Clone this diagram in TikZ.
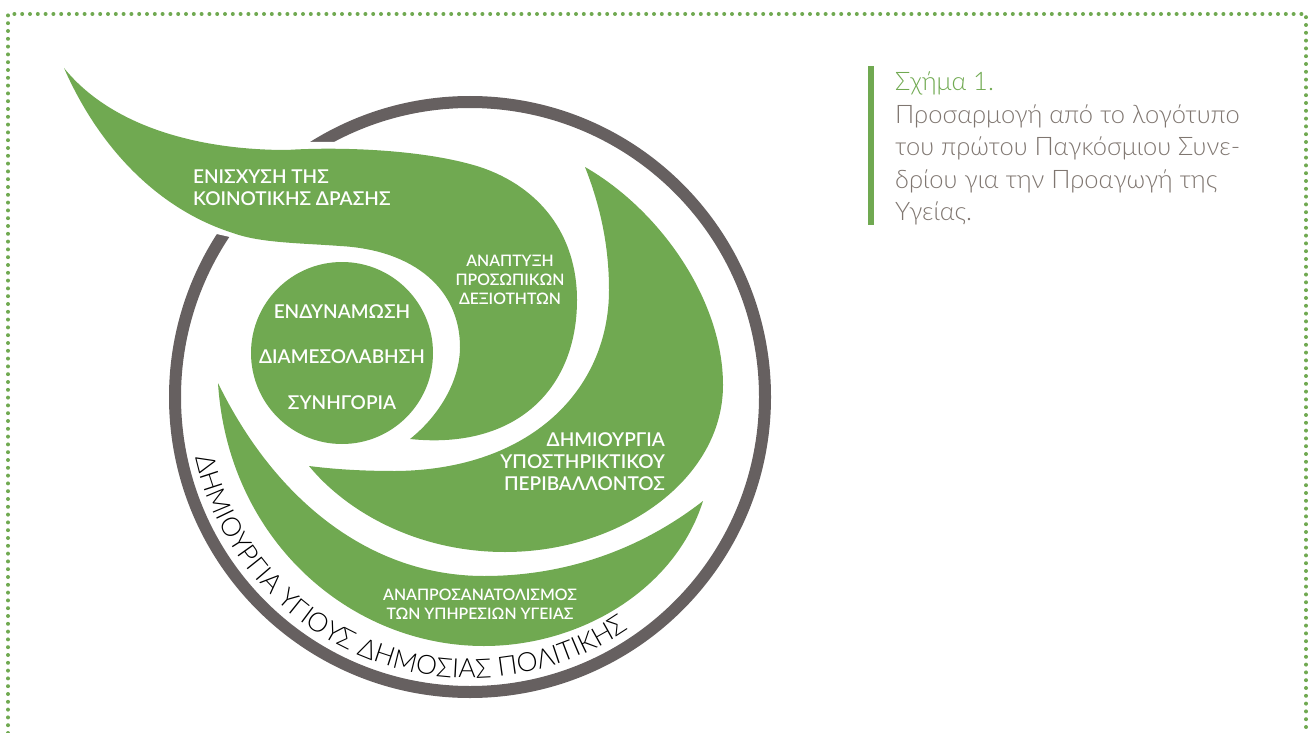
\documentclass[tikz,border=0pt]{standalone}
\usepackage{fontspec}
\usetikzlibrary{decorations.text}
\setmainfont{Lato}
\newfontfamily\boldface{Lato Semibold}
\newfontfamily\lightface{Lato Light}
\definecolor{leafgreen}{HTML}{70A951}
\definecolor{ringgray}{HTML}{666060}
\definecolor{captgray}{HTML}{7F7670}
\tikzset{
  leaf/.style={fill=leafgreen},
  dotline/.style={draw=leafgreen,line width=4pt,line cap=round,dash pattern=on 0pt off 7.8pt},
  whitebig/.style={text=white,inner sep=0pt,align=center,font=\boldface\fontsize{19}{22}\selectfont},
  whitesmall/.style={text=white,inner sep=0pt,align=center,font=\boldface\fontsize{15.8}{19}\selectfont},
  capt/.style={inner sep=0pt,anchor=north west,align=left,text=captgray,font=\lightface\fontsize{25.5}{32.5}\selectfont}
}
\begin{document}
\begin{tikzpicture}[x=1pt,y=-1pt]
\useasboundingbox (0,0) rectangle (1309,733);
\draw[dotline] (8,733)--(8,14)--(1306,14)--(1306,733);
\coordinate (centre) at (470,397);
\draw[ringgray,line width=12pt] (centre) circle[radius=295];
\fill[white] (300,142)--(345,142)--(345,200)--(245,240.5)--(205,231.3)--cycle;
% leaves
\fill[leaf] (64,68) .. controls (110,125) and (195,150) .. (287,150) .. controls (330,147) and (420,148) .. (480,167) .. controls (540,187) and (577,235) .. (577,300) .. controls (577,390) and (515,450) .. (410,439)
  .. controls (440,415) and (460,380) .. (460,347) .. controls (460,290) and (415,250) .. (340,246) .. controls (300,243) and (260,243) .. (233,233) .. controls (160,210) and (100,150) .. (64,68) -- cycle;
\fill[leaf] (585,167) .. controls (660,210) and (723,300) .. (723,385) .. controls (723,480) and (620,552) .. (505,552) .. controls (415,552) and (345,510) .. (309,466)
  .. controls (340,470) and (370,471) .. (395,471) .. controls (530,470) and (609,390) .. (609,290) .. controls (609,245) and (600,205) .. (585,167) -- cycle;
\fill[leaf] (218,383) .. controls (228,540) and (350,646) .. (484,646) .. controls (580,646) and (675,590) .. (703,501)
  .. controls (640,550) and (565,576) .. (484,576) .. controls (370,576) and (275,500) .. (218,383) -- cycle;
\fill[leaf] (342,353) circle[radius=91];
% labels
\node[whitebig,align=left,anchor=west] (action) at (193,188) {ΕΝΙΣΧΥΣΗ ΤΗΣ\\ΚΟΙΝΟΤΙΚΗΣ ΔΡΑΣΗΣ};
\node[whitesmall] (skills) at (510,280) {ΑΝΑΠΤΥΞΗ\\ΠΡΟΣΩΠΙΚΩΝ\\ΔΕΞΙΟΤΗΤΩΝ};
\foreach \n/\y/\t in {empower/312/ΕΝΔΥΝΑΜΩΣΗ,mediate/357/ΔΙΑΜΕΣΟΛΑΒΗΣΗ,advocate/403/ΣΥΝΗΓΟΡΙΑ}{\node[whitebig] (\n) at (342,\y) {\t};}
\node[whitebig,align=right,anchor=east] (environ) at (665,462) {ΔΗΜΙΟΥΡΓΙΑ\\ΥΠΟΣΤΗΡΙΚΤΙΚΟΥ\\ΠΕΡΙΒΑΛΛΟΝΤΟΣ};
\node[whitesmall] (services) at (480,604) {ΑΝΑΠΡΟΣΑΝΑΤΟΛΙΣΜΟΣ\\ΤΩΝ ΥΠΗΡΕΣΙΩΝ ΥΓΕΙΑΣ};
\path[decorate,decoration={text along path,text align=center,text={|\lightface\fontsize{26.5}{27}\selectfont|ΔΗΜΙΟΥΡΓΙΑ ΥΓΙΟΥΣ ΔΗΜΟΣΙΑΣ ΠΟΛΙΤΙΚΗΣ}}]
  (centre) ++(169:281) arc[start angle=169,end angle=54,radius=281];
% caption
\fill[leafgreen] (868,66) rectangle (874,225);
\node[capt] (caption) at (895,72) {\textcolor{leafgreen}{Σχήμα 1.}\\Προσαρμογή από το λογότυπο\\του πρώτου Παγκόσμιου Συνε-\\δρίου για την Προαγωγή της\\Υγείας.};
\end{tikzpicture}
\end{document}
